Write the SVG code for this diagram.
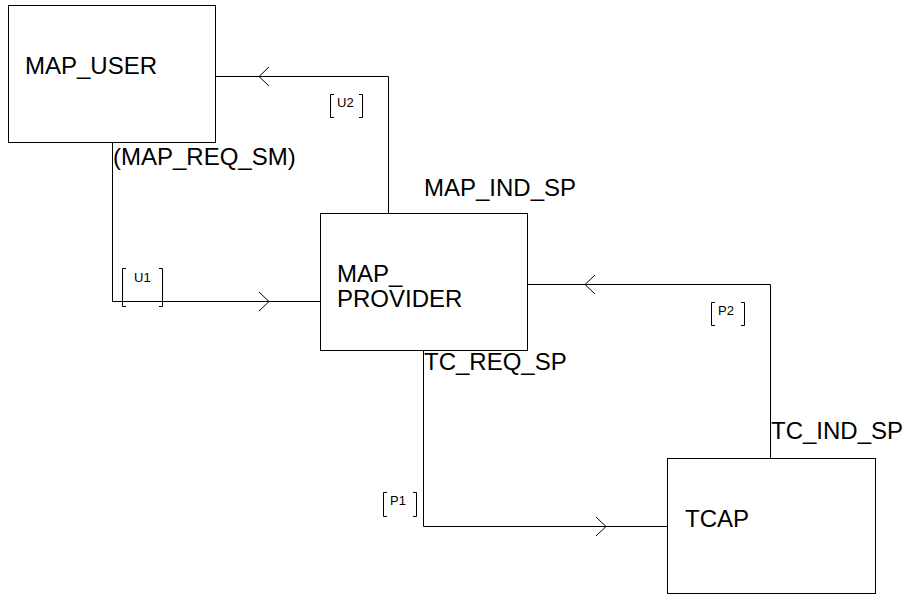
<svg xmlns="http://www.w3.org/2000/svg" width="909" height="595" viewBox="0 0 909 595">
<style>
.box{fill:#fff;stroke:#000;stroke-width:1}
.ln{fill:none;stroke:#000;stroke-width:1}
.br{fill:none;stroke:#000;stroke-width:1}
.t{font-family:"Liberation Sans",Arial,sans-serif;font-size:24px;fill:#000}
.s{font-family:"Liberation Sans",Arial,sans-serif;font-size:13px;fill:#000}
</style>
<rect width="909" height="595" fill="#fff"/>
<g id="connectors">
  <g id="U2">
    <polyline class="ln" points="215.5,76.5 388.5,76.5 388.5,213"/>
    <polyline class="ln" points="269,67 259,76.5 269,86"/>
    <path class="br" d="M334,94.5 H330.5 V117.5 H334 M359,94.5 H362.5 V117.5 H359"/>
    <text class="s" x="337" y="107">U2</text>
  </g>
  <g id="U1">
    <polyline class="ln" points="112.5,142 112.5,301.5 320,301.5"/>
    <polyline class="ln" points="259,292 269,301.5 259,311"/>
    <path class="br" d="M126,268.5 H122.5 V306.5 H126 M159,268.5 H162.5 V306.5 H159"/>
    <text class="s" x="134" y="282">U1</text>
  </g>
  <g id="P2">
    <polyline class="ln" points="770.5,458 770.5,284.5 528,284.5"/>
    <polyline class="ln" points="595,275 585,284.5 595,294"/>
    <path class="br" d="M715,302.5 H711.5 V325.5 H715 M741,302.5 H744.5 V325.5 H741"/>
    <text class="s" x="718" y="315">P2</text>
  </g>
  <g id="P1">
    <polyline class="ln" points="423.5,350 423.5,526.5 667,526.5"/>
    <polyline class="ln" points="596,517 606,526.5 596,536"/>
    <path class="br" d="M387,492.5 H383.5 V516.5 H387 M413,492.5 H416.5 V516.5 H413"/>
    <text class="s" x="390" y="505">P1</text>
  </g>
  <text class="t" x="113" y="165">(MAP_REQ_SM)</text>
  <text class="t" x="424" y="196">MAP_IND_SP</text>
  <text class="t" x="424" y="370">TC_REQ_SP</text>
  <text class="t" x="771" y="439">TC_IND_SP</text>
</g>
<g id="MAP_USER">
  <rect class="box" x="8.5" y="5.5" width="207" height="137"/>
  <text class="t" x="25" y="74">MAP_USER</text>
</g>
<g id="MAP_PROVIDER">
  <rect class="box" x="320.5" y="213.5" width="207" height="137"/>
  <text class="t" x="337" y="282">MAP_</text>
  <text class="t" x="337" y="307">PROVIDER</text>
</g>
<g id="TCAP">
  <rect class="box" x="667.5" y="458.5" width="208" height="135"/>
  <text class="t" x="685" y="527">TCAP</text>
</g>
</svg>
